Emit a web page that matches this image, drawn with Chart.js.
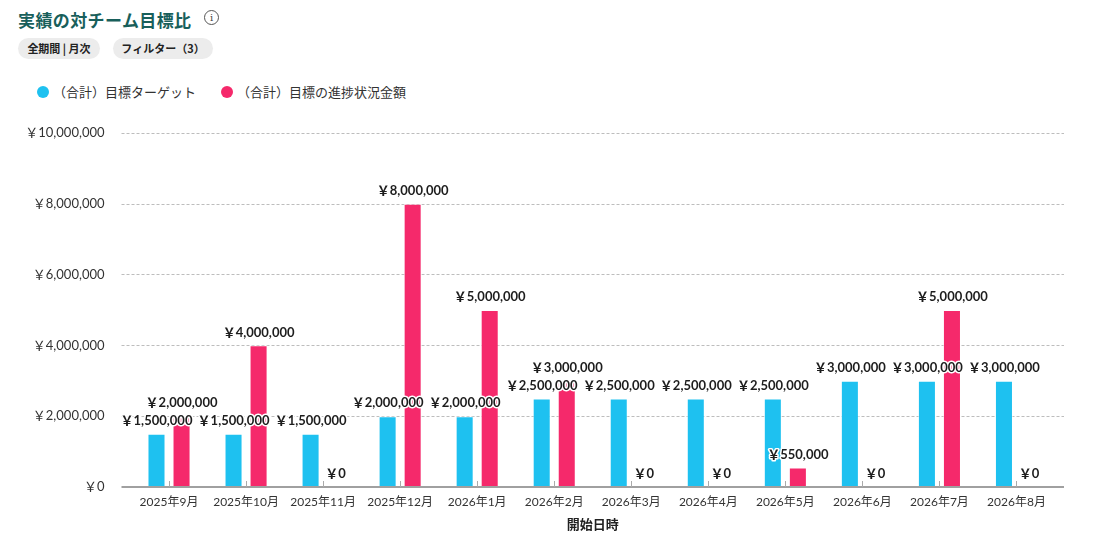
<!DOCTYPE html>
<html lang="ja">
<head>
<meta charset="utf-8">
<script src="https://cdn.jsdelivr.net/npm/chart.js@4.4.1/dist/chart.umd.min.js"></script>
<style>
  html, body { margin: 0; padding: 0; background: #fff; }
  body { width: 1109px; height: 544px; position: relative; overflow: hidden;
         font-family: 'Lato', 'Noto Sans CJK JP', sans-serif; color: #333; }
  .titulo { position: absolute; left: 18px; top: 7px; font-size: 17px; font-weight: 700;
            color: #185f5b; font-family: 'Noto Sans CJK JP', sans-serif; letter-spacing: 0.4px; }
  .info { position: absolute; left: 204px; top: 10px; width: 13px; height: 13px; border: 1px solid #555;
          border-radius: 50%; font-size: 10px; line-height: 13px; text-align: center; color: #444;
          font-family: 'DejaVu Serif', serif; }
  .pill { position: absolute; top: 38px; height: 21px; line-height: 21px; border-radius: 11px;
          background: #ececec; font-size: 11px; font-weight: 700; color: #222; text-align: center;
          font-family: 'Noto Sans CJK JP', sans-serif; white-space: pre; }
  .leyenda { position: absolute; top: 83px; font-size: 13px; color: #333; white-space: nowrap;
             font-family: 'Noto Sans CJK JP', sans-serif; line-height: 18px; }
  .punto { display: inline-block; width: 12px; height: 12px; border-radius: 50%; vertical-align: -1px; margin-right: 4px; }
  #contenedor { position: absolute; left: 0; top: 99px; width: 1109px; height: 445px; }
</style>
</head>
<body>
<div class="titulo">実績の対チーム目標比</div>
<div class="info">i</div>
<div class="pill" style="left:18px;width:82px;">全期間 | 月次</div>
<div class="pill" style="left:113px;width:100px;">フィルター（3）</div>
<div class="leyenda" style="left:37px;"><span class="punto" style="background:#1ec1f0"></span>（合計）目標ターゲット</div>
<div class="leyenda" style="left:221px;"><span class="punto" style="background:#f5296b"></span>（合計）目標の進捗状況金額</div>
<div id="contenedor"><canvas id="grafico"></canvas></div>
<script>
const meses = ['2025年9月', '2025年10月', '2025年11月', '2025年12月', '2026年1月', '2026年2月',
  '2026年3月', '2026年4月', '2026年5月', '2026年6月', '2026年7月', '2026年8月'];
const objetivo = [1500000, 1500000, 1500000, 2000000, 2000000, 2500000, 2500000, 2500000, 2500000, 3000000, 3000000, 3000000];
const progreso = [2000000, 4000000, 0, 8000000, 5000000, 3000000, 0, 0, 550000, 0, 5000000, 0];
const nombres = ['（合計）目標ターゲット', '（合計）目標の進捗状況金額'];

const yen = v => '￥' + Number(v).toLocaleString('en-US');

// lineas de la grilla y eje x, un poco mas anchas que el area
const grillaPlugin = {
  id: 'grilla',
  beforeDatasetsDraw(chart) {
    const { ctx, chartArea, scales } = chart;
    const y = scales.y;
    ctx.save();
    ctx.strokeStyle = '#bdbdbd';
    ctx.lineWidth = 1;
    ctx.setLineDash([3, 2]);
    y.ticks.forEach(t => {
      if (t.value === 0) return;
      const py = Math.round(y.getPixelForValue(t.value)) + 0.5;
      ctx.beginPath();
      ctx.moveTo(chartArea.left - 9, py);
      ctx.lineTo(chartArea.right + 9, py);
      ctx.stroke();
    });
    ctx.restore();
  },
  afterDatasetsDraw(chart) {
    const { ctx, chartArea, scales } = chart;
    ctx.save();
    ctx.strokeStyle = '#a0a0a0';
    ctx.lineWidth = 2;
    ctx.beginPath();
    ctx.moveTo(chartArea.left - 9, chartArea.bottom);
    ctx.lineTo(chartArea.right + 9, chartArea.bottom);
    ctx.stroke();
    ctx.lineWidth = 1;
    ctx.strokeStyle = '#aaa';
    meses.forEach((m, i) => {
      const px = Math.round(scales.x.getPixelForValue(i)) + 0.5;
      ctx.beginPath();
      ctx.moveTo(px, chartArea.bottom);
      ctx.lineTo(px, chartArea.bottom - 6);
      ctx.stroke();
    });
    ctx.restore();
  }
};

// etiquetas de valores sobre cada barra
const etiquetasPlugin = {
  id: 'etiquetas',
  afterDatasetsDraw(chart) {
    const { ctx } = chart;
    ctx.save();
    ctx.font = "700 13px 'Lato', 'Noto Sans CJK JP', sans-serif";
    ctx.textAlign = 'center';
    ctx.textBaseline = 'middle';
    ctx.lineJoin = 'round';
    chart.data.datasets.forEach((ds, di) => {
      chart.getDatasetMeta(di).data.forEach((bar, i) => {
        const txt = yen(ds.data[i]);
        const py = bar.y - 13;
        ctx.strokeStyle = '#fff';
        ctx.lineWidth = 3;
        ctx.strokeText(txt, bar.x, py);
        ctx.fillStyle = '#1d1d1d';
        ctx.fillText(txt, bar.x, py);
      });
    });
    ctx.restore();
  }
};

new Chart(document.getElementById('grafico'), {
  type: 'bar',
  data: {
    labels: meses,
    datasets: [
      { label: nombres[0], data: objetivo, backgroundColor: '#1ec1f0', borderColor: 'rgba(255,255,255,0.5)', borderWidth: 1 },
      { label: nombres[1], data: progreso, backgroundColor: '#f5296b', borderColor: 'rgba(255,255,255,0.5)', borderWidth: 1 }
    ]
  },
  options: {
    responsive: true,
    maintainAspectRatio: false,
    animation: false,
    categoryPercentage: 0.65,
    barPercentage: 0.72,
    layout: { padding: { top: 0, right: 54, left: 0, bottom: 0 } },
    plugins: {
      legend: { display: false },
      tooltip: { enabled: false }
    },
    scales: {
      x: {
        grid: { display: false, drawTicks: false },
        border: { display: false },
        ticks: { color: '#333', padding: 8, font: { size: 12, family: "'Lato', 'Noto Sans CJK JP', sans-serif" }, maxRotation: 0 },
        title: { display: true, text: '開始日時', color: '#222', padding: { top: 4, bottom: 12 },
                 font: { size: 13, weight: '700', family: "'Noto Sans CJK JP', sans-serif" } },
        afterFit(scale) { scale.height = 57; }
      },
      y: {
        min: 0,
        max: 10000000,
        grid: { display: false, drawTicks: false },
        border: { display: false },
        ticks: { stepSize: 2000000, color: '#333', padding: 26, callback: v => yen(v),
                 font: { size: 13, family: "'Lato', 'Noto Sans CJK JP', sans-serif" } },
        afterFit(scale) { scale.width = 130.5; }
      }
    }
  },
  plugins: [grillaPlugin, etiquetasPlugin]
});
</script>
</body>
</html>
